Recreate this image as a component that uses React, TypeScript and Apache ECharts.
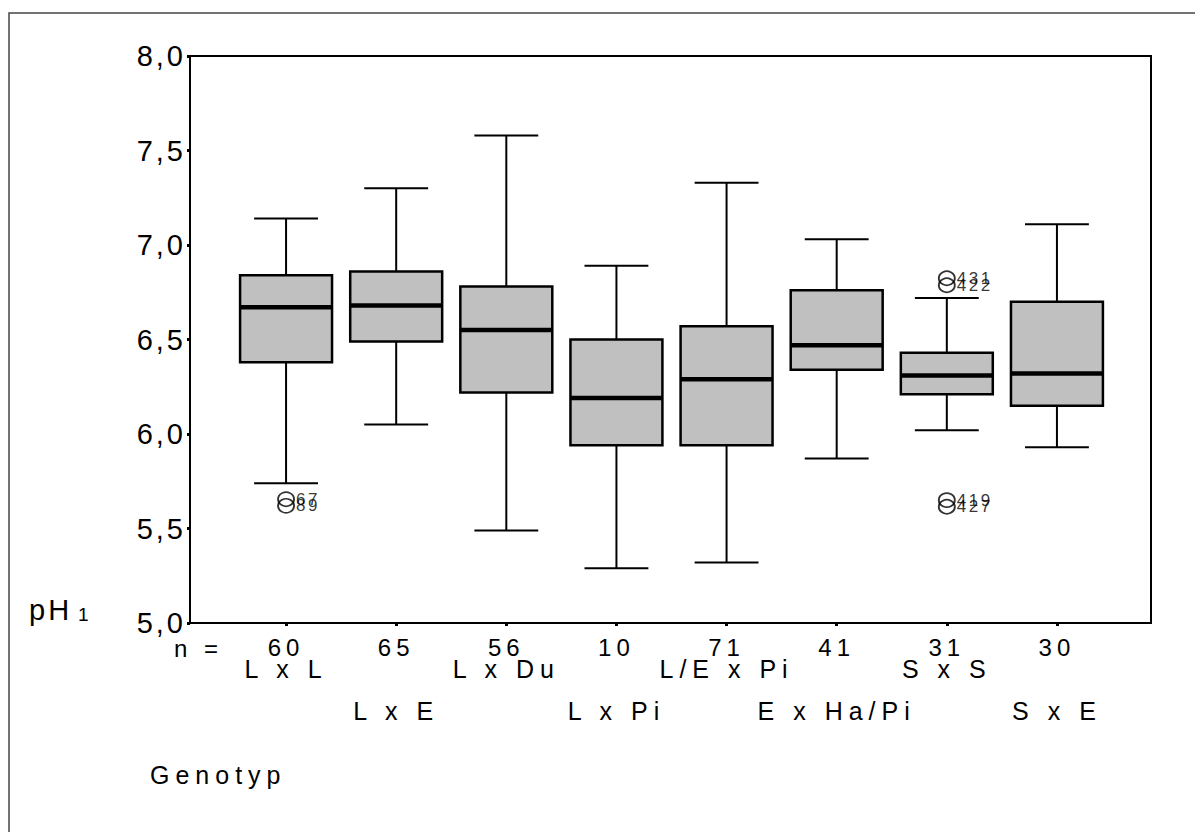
import React, { useEffect, useRef } from "react";
import * as echarts from "echarts";

const categories = ["L x L", "L x E", "L x Du", "L x Pi", "L/E x Pi", "E x Ha/Pi", "S x S", "S x E"];
const counts = [60, 65, 56, 10, 71, 41, 31, 30];
const lowWhisker = [5.74, 6.05, 5.49, 5.29, 5.32, 5.87, 6.02, 5.93];
const q1 = [6.38, 6.49, 6.22, 5.94, 5.94, 6.34, 6.21, 6.15];
const median = [6.67, 6.68, 6.55, 6.19, 6.29, 6.47, 6.31, 6.32];
const q3 = [6.84, 6.86, 6.78, 6.5, 6.57, 6.76, 6.43, 6.7];
const highWhisker = [7.14, 7.3, 7.58, 6.89, 7.33, 7.03, 6.72, 7.11];

const outlierCategory = [0, 0, 6, 6, 6, 6];
const outlierValue = [5.655, 5.62, 6.824, 6.787, 5.65, 5.615];
const outlierId = ["67", "89", "431", "422", "419", "427"];

const yTicks = { min: 5, max: 8, interval: 0.5 };

const FONT = "Liberation Sans, Arial, sans-serif";

const css = `
.spss-chart { letter-spacing: 5px; }
.spss-chart text[style*="25px"], .spss-chart text[font-size="25"], .spss-chart text[font-size="25px"] { letter-spacing: 6px; }
.spss-chart text[style*="29px"], .spss-chart text[font-size="29"], .spss-chart text[font-size="29px"] { letter-spacing: 3px; }
.spss-chart text[style*="17px"], .spss-chart text[font-size="17"], .spss-chart text[font-size="17px"] { letter-spacing: 2.5px; }
`;

export default function App() {
  const ref = useRef<HTMLDivElement>(null);
  useEffect(() => {
    if (!ref.current) return;
    const chart = echarts.init(ref.current, undefined, { renderer: "svg" });
    const boxData = categories.map((_, i) => [i, lowWhisker[i], q1[i], median[i], q3[i], highWhisker[i]]);
    const outData = outlierCategory.map((c, i) => ({ value: [c, outlierValue[i]], name: outlierId[i] }));
    const option: any = {
      animation: false,
      backgroundColor: "#fff",
      textStyle: { fontFamily: FONT },
      grid: [
        { left: 190, right: 44, top: 56, bottom: 209, show: true, borderColor: "#000", borderWidth: 2, backgroundColor: "transparent" },
        { left: 231, right: 83, top: 56, bottom: 209 },
      ],
      xAxis: [
        { type: "value", gridIndex: 0, min: 0, max: 1, show: false },
        {
          type: "category",
          gridIndex: 1,
          data: categories,
          axisLine: { show: false },
          axisTick: { show: true, alignWithLabel: true, length: 3, lineStyle: { color: "#000", width: 3 } },
          splitLine: { show: false },
          axisLabel: {
            margin: 13,
            interval: 0,
            formatter: (value: string, index: number) =>
              index % 2 === 0
                ? `{n|${counts[index]}}\n{g|${value}}`
                : `{n|${counts[index]}}\n{sp| }\n{g|${value}}`,
            rich: {
              n: { fontSize: 24, lineHeight: 22, color: "#000", fontFamily: FONT },
              g: { fontSize: 25, lineHeight: 22, color: "#000", fontFamily: FONT },
              sp: { fontSize: 10, lineHeight: 42 },
            },
          },
        },
      ],
      yAxis: [
        {
          type: "value",
          gridIndex: 0,
          min: yTicks.min,
          max: yTicks.max,
          interval: yTicks.interval,
          axisLine: { show: true, lineStyle: { color: "#000", width: 2 } },
          axisTick: { show: true, length: 3, lineStyle: { color: "#000", width: 3 } },
          splitLine: { show: false },
          axisLabel: {
            margin: 4,
            fontSize: 29,
            color: "#000",
            fontFamily: FONT,
            formatter: (v: number) => v.toFixed(1).replace(".", ","),
          },
        },
        { type: "value", gridIndex: 1, min: yTicks.min, max: yTicks.max, show: false },
      ],
      series: [
        {
          type: "custom",
          xAxisIndex: 1,
          yAxisIndex: 1,
          data: boxData,
          encode: { x: 0, y: [1, 2, 3, 4, 5] },
          renderItem: (params: any, api: any) => {
            const x = api.value(0);
            const pLow = api.coord([x, api.value(1)]);
            const pQ1 = api.coord([x, api.value(2)]);
            const pMed = api.coord([x, api.value(3)]);
            const pQ3 = api.coord([x, api.value(4)]);
            const pHigh = api.coord([x, api.value(5)]);
            const band = api.size([1, 0])[0];
            const bw = band * 0.835;
            const cw = band * 0.58;
            const cx = pLow[0];
            const ls = { stroke: "#000", lineWidth: 2 };
            return {
              type: "group",
              children: [
                { type: "line", shape: { x1: cx, y1: pHigh[1], x2: cx, y2: pQ3[1] }, style: ls },
                { type: "line", shape: { x1: cx, y1: pQ1[1], x2: cx, y2: pLow[1] }, style: ls },
                { type: "line", shape: { x1: cx - cw / 2, y1: pHigh[1], x2: cx + cw / 2, y2: pHigh[1] }, style: ls },
                { type: "line", shape: { x1: cx - cw / 2, y1: pLow[1], x2: cx + cw / 2, y2: pLow[1] }, style: ls },
                {
                  type: "rect",
                  shape: { x: cx - bw / 2, y: pQ3[1], width: bw, height: pQ1[1] - pQ3[1] },
                  style: { fill: "#c0c0c0", stroke: "#000", lineWidth: 2.5 },
                },
                { type: "line", shape: { x1: cx - bw / 2, y1: pMed[1], x2: cx + bw / 2, y2: pMed[1] }, style: { stroke: "#000", lineWidth: 4.5 } },
              ],
            };
          },
        },
        {
          type: "scatter",
          xAxisIndex: 1,
          yAxisIndex: 1,
          data: outData,
          symbol: "circle",
          symbolSize: [16, 14],
          itemStyle: { color: "transparent", borderColor: "#000", borderWidth: 1.8 },
          label: {
            show: true,
            position: "right",
            distance: 1,
            formatter: (p: any) => p.name,
            fontSize: 17,
            color: "#000",
            fontFamily: FONT,
          },
        },
      ],
      graphic: [
        { type: "rect", shape: { x: 9, y: 13, width: 1300, height: 1000 }, style: { fill: "none", stroke: "#444", lineWidth: 1.5 }, silent: true },
        {
          type: "text",
          x: 29,
          y: 624,
          style: {
            text: "{a|pH}{s|1}",
            verticalAlign: "bottom",
            rich: {
              a: { fontSize: 29, fontFamily: FONT, fill: "#000", color: "#000" },
              s: { fontSize: 19, fontFamily: FONT, fill: "#000", color: "#000", padding: [10, 0, 0, 12] },
            },
          },
        },
        { type: "text", x: 174, y: 648, style: { text: "n =", fontSize: 24, fontFamily: FONT, fill: "#000", verticalAlign: "middle" } },
        { type: "text", x: 150, y: 775, style: { text: "Genotyp", fontSize: 25, fontFamily: FONT, fill: "#000", verticalAlign: "middle" } },
      ],
    };
    chart.setOption(option);
    return () => chart.dispose();
  }, []);
  return (
    <>
      <style>{css}</style>
      <div
        ref={ref}
        className="spss-chart"
        style={{ position: "fixed", left: 0, top: 0, width: 1195, height: 832 }}
      />
    </>
  );
}
